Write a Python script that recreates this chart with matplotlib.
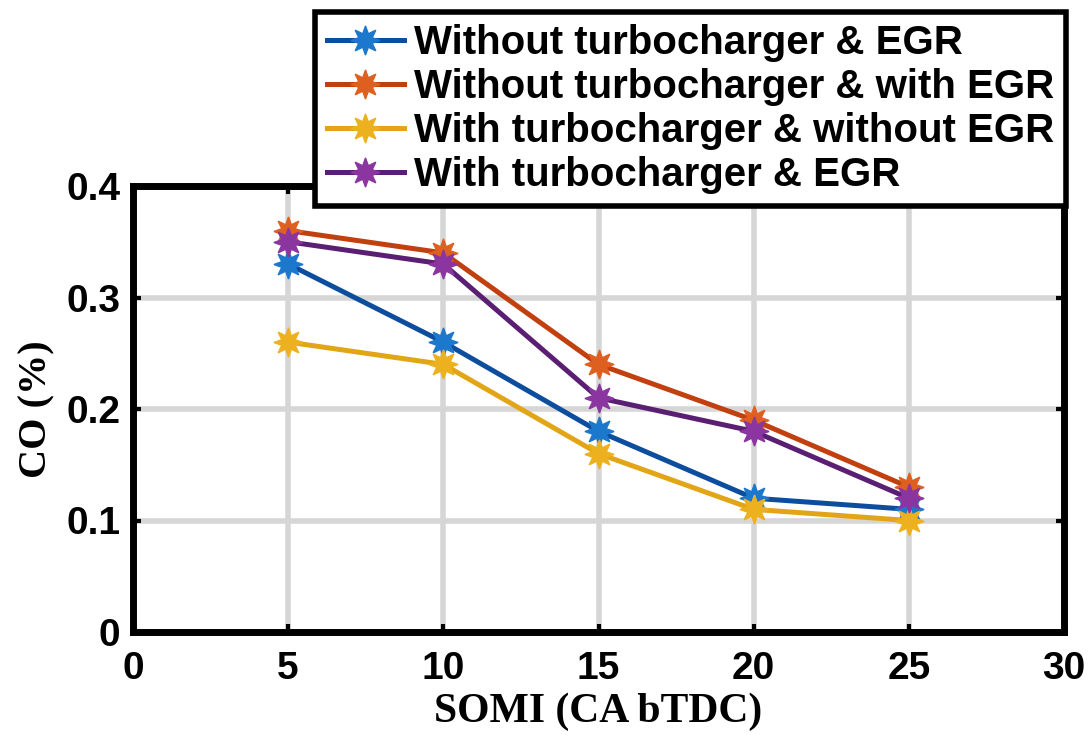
import numpy as np
import matplotlib
matplotlib.use("Agg")
import matplotlib.pyplot as plt

# SOMI sweep and CO readings for each engine configuration
somi = [5, 10, 15, 20, 25]
co_no_turbo_no_egr = [0.33, 0.26, 0.18, 0.12, 0.11]
co_no_turbo_egr = [0.36, 0.34, 0.24, 0.19, 0.13]
co_turbo_no_egr = [0.26, 0.24, 0.16, 0.11, 0.10]
co_turbo_egr = [0.35, 0.33, 0.21, 0.18, 0.12]

labels = ["Without turbocharger & EGR",
          "Without turbocharger & with EGR",
          "With turbocharger & without EGR",
          "With turbocharger & EGR"]
x_ticks = [0, 5, 10, 15, 20, 25, 30]
y_ticks = [0, 0.1, 0.2, 0.3, 0.4]
y_ticklabels = ["0", "0.1", "0.2", "0.3", "0.4"]

series = [co_no_turbo_no_egr, co_no_turbo_egr, co_turbo_no_egr, co_turbo_egr]
line_colors = ["#0C4D9E", "#C2400F", "#E2A516", "#5A1F73"]
face_colors = ["#1C78CC", "#DE6020", "#EDB120", "#8A35A0"]

fig = plt.figure(figsize=(10.89, 7.35), dpi=100)
ax = fig.add_axes([133 / 1089, 103 / 735, 931 / 1089, 446 / 735])

for vals, lab, lc, fc in zip(series, labels, line_colors, face_colors):
    ax.plot(somi, vals, color=lc, lw=3.6, marker=(8, 1, 0), ms=21,
            mfc=fc, mec=fc, label=lab, zorder=3)

ax.set_xlim(0, 30)
ax.set_ylim(0, 0.4)
ax.set_xticks(x_ticks)
ax.set_yticks(y_ticks)
ax.set_yticklabels(y_ticklabels)
ax.grid(True, color="#d6d6d6", lw=4)
ax.set_axisbelow(True)

for sp in ax.spines.values():
    sp.set_linewidth(5)
    sp.set_color("black")
ax.tick_params(direction="in", length=6, width=3, top=True, right=True)
ax.tick_params(axis="x", pad=14)
ax.tick_params(axis="y", pad=9)
for t in ax.get_xticklabels() + ax.get_yticklabels():
    t.set_fontfamily("Liberation Sans")
    t.set_fontweight("bold")
    t.set_fontsize(28)

ax.set_xlabel("SOMI (CA bTDC)", family="Liberation Serif", fontsize=30,
              fontweight="bold", labelpad=4)
ax.set_ylabel("CO (%)", family="Liberation Serif", fontsize=29,
              fontweight="bold", labelpad=8)

leg = ax.legend(loc="upper right", bbox_to_anchor=(1066 / 1089, 1 - 12 / 735),
                bbox_transform=fig.transFigure, fancybox=False,
                framealpha=1, edgecolor="black", handlelength=1.9,
                handletextpad=0.25, labelspacing=0.15, borderpad=0.3,
                borderaxespad=0,
                prop={"family": "Liberation Sans", "weight": "bold", "size": 29})
leg.get_frame().set_linewidth(4)
leg.set_zorder(10)

fig.savefig("out.png", dpi=100)
